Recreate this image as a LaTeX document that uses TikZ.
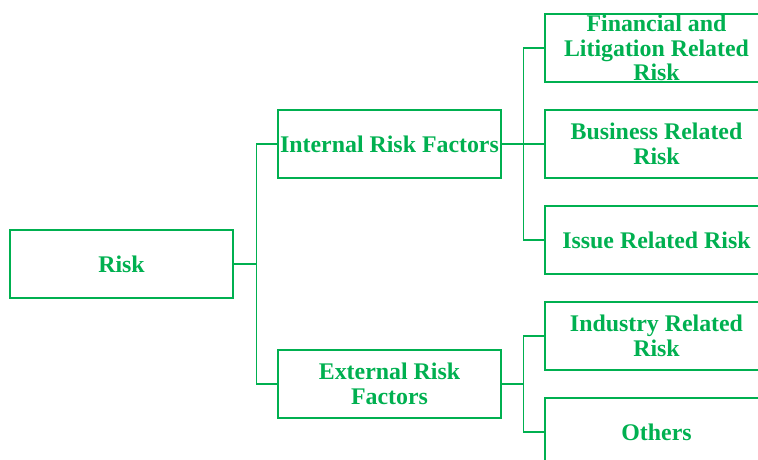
\documentclass[tikz,border=0pt]{standalone}
\usepackage{fontspec}
\setmainfont{Liberation Serif}
\definecolor{rgreen}{HTML}{00B050}
\begin{document}
\begin{tikzpicture}[x=0.75pt,y=-0.75pt,
  box/.style={draw=rgreen,line width=0.8pt,rectangle,minimum width=167.25pt,minimum height=51pt,
    inner sep=0pt,align=center,text=rgreen,font=\fontsize{17.9}{18.4}\selectfont\bfseries},
  conn/.style={draw=rgreen,line width=0.8pt}]
\useasboundingbox (0,0) rectangle (758,460);
\clip (0,0) rectangle (758,460);
\node[box] (risk) at (121.5,264) {Risk};
\node[box] (internal) at (389.5,144) {Internal Risk Factors};
\node[box] (external) at (389.5,384) {External Risk\\Factors};
\node[box] (fin) at (656.5,48) {Financial and\\Litigation Related\\Risk};
\node[box] (bus) at (656.5,144) {Business Related\\Risk};
\node[box] (issue) at (656.5,240) {Issue Related Risk};
\node[box] (ind) at (656.5,336) {Industry Related\\Risk};
\node[box] (oth) at (656.5,432) {Others};
\draw[conn] (risk.east) -- ++(23,0) coordinate (j1);
\draw[conn] (j1) |- (internal.west);
\draw[conn] (j1) |- (external.west);
\draw[conn] (internal.east) -- ++(22,0) coordinate (j2);
\draw[conn] (j2) |- (fin.west);
\draw[conn] (j2) |- (bus.west);
\draw[conn] (j2) |- (issue.west);
\draw[conn] (external.east) -- ++(22,0) coordinate (j3);
\draw[conn] (j3) |- (ind.west);
\draw[conn] (j3) |- (oth.west);
\end{tikzpicture}
\end{document}
